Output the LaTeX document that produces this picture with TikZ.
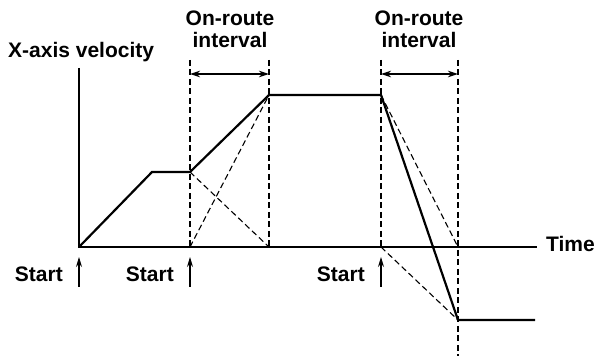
\documentclass[tikz,border=0pt]{standalone}
\usepackage{fontspec}
\setmainfont{Liberation Sans}
\usetikzlibrary{arrows.meta}

\begin{document}
\begin{tikzpicture}[x=1pt,y=-1pt]
    % --- styles ---
    \tikzset{lbl/.style={font=\fontsize{21}{22}\selectfont\bfseries,inner sep=0pt},
      profile/.style={line width=2.2pt,line join=miter},
      guide/.style={line width=1.1pt,dash pattern=on 6pt off 3.5pt},
      axisline/.style={line width=1.1pt},
      startarrow/.style={line width=1.1pt,-{Stealth[length=10pt,width=6pt]}},
      spanarrow/.style={line width=1.1pt,{Stealth[length=10pt,width=6.5pt]}-{Stealth[length=10pt,width=6.5pt]}}}
    \useasboundingbox (0,0) rectangle (595,358);

    % key points of the velocity profile
    \coordinate (p0) at (79,247);
    \coordinate (p1) at (152,172);
    \coordinate (p2) at (190,172);
    \coordinate (p3) at (269,95);
    \coordinate (p4) at (381,95);
    \coordinate (p5) at (458,320);
    \coordinate (p6) at (535,320);
    % points on the time axis
    \coordinate (b2) at (190,247);
    \coordinate (b3) at (269,247);
    \coordinate (b4) at (381,247);
    \coordinate (b5) at (458,247);

    % axes
    \coordinate (ytop) at (79,68);
    \coordinate (xend) at (537,247);
    \draw[axisline] (ytop) -- (p0) -- (xend);
    \node[lbl,anchor=base west] (vlab) at (8,58) {X-axis velocity};
    \node[lbl,anchor=base west] (tlab) at (546,252) {Time};

    % interval guides
    \coordinate (g2) at (190,60);
    \coordinate (g3) at (269,60);
    \coordinate (g4) at (381,60);
    \coordinate (g5) at (458,60);
    \coordinate (g5b) at (458,356);
    \draw[guide] (g2) -- (b2);
    \draw[guide] (g3) -- (b3);
    \draw[guide] (g4) -- (b4);
    \draw[guide] (g5) -- (g5b);

    % on-route interval labels and spans
    \node[lbl,align=center,anchor=south,text depth=0pt] (int1) at (230,48) {On-route\\interval};
    \node[lbl,align=center,anchor=south,text depth=0pt] (int2) at (419,48) {On-route\\interval};
    \coordinate (a2) at (190,74);
    \coordinate (a3) at (269,74);
    \coordinate (a4) at (381,74);
    \coordinate (a5) at (458,74);
    \draw[spanarrow] (a2) -- (a3);
    \draw[spanarrow] (a4) -- (a5);

    % dashed alternative ramps
    \draw[guide] (p2) -- (b3);
    \draw[guide] (b2) -- (p3);
    \draw[guide] (p4) -- (b5);
    \draw[guide] (b4) -- (p5);

    % velocity profile
    \draw[profile] (p0) -- (p1) -- (p2) -- (p3) -- (p4) -- (p5) -- (p6);

    % start markers
    \foreach \x/\n in {79/1,190/2,381/3}{
      \coordinate (st\n) at (\x,287);
      \coordinate (sh\n) at (\x,257);
      \draw[startarrow] (st\n) -- (sh\n);
      \node[lbl,anchor=base east] (slab\n) at (\x-16,282) {Start};
    }
\end{tikzpicture}
\end{document}
